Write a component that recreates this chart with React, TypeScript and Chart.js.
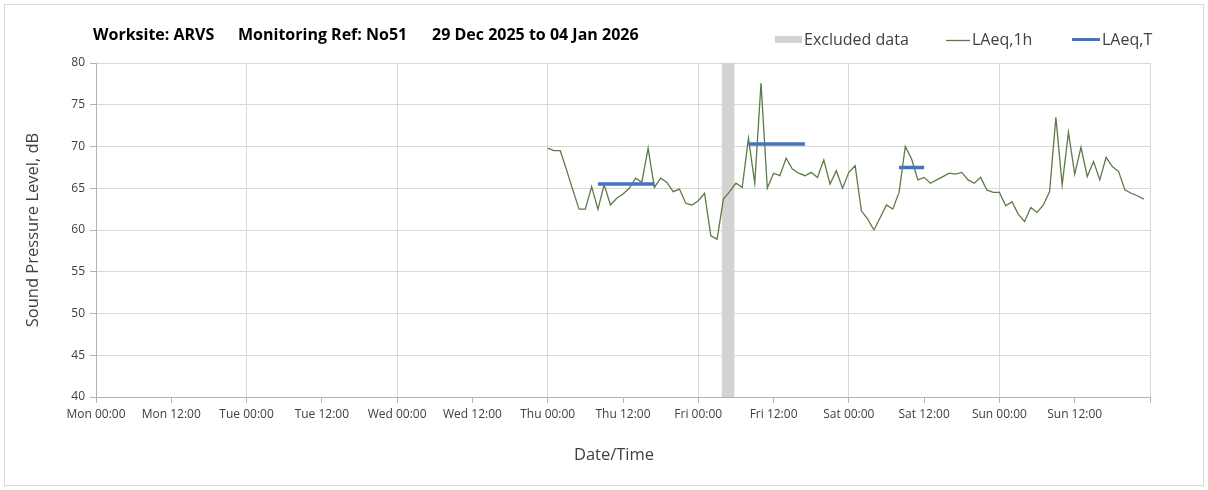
import React, { useEffect, useRef } from 'react';
import { Chart, registerables } from 'chart.js';

Chart.register(...registerables);

// ---- data ----
const X_TICK_LABELS = [
  'Mon 00:00', 'Mon 12:00', 'Tue 00:00', 'Tue 12:00', 'Wed 00:00', 'Wed 12:00',
  'Thu 00:00', 'Thu 12:00', 'Fri 00:00', 'Fri 12:00', 'Sat 00:00', 'Sat 12:00',
  'Sun 00:00', 'Sun 12:00', '',
];
const Y_TICKS = [40, 45, 50, 55, 60, 65, 70, 75, 80];

// hourly LAeq,1h values starting Thu 00:00 (hour 72 of the week)
const LAEQ_1H_START_HOUR = 72;
const LAEQ_1H = [
  69.8, 69.5, 69.5, 67.2, 64.8, 62.5, 62.5, 65.2, 62.5, 65.4, 63.0, 63.8,
  64.3, 65.0, 66.2, 65.7, 69.8, 65.1, 66.2, 65.7, 64.6, 64.9, 63.2, 63.0,
  63.5, 64.4, 59.3, 58.9, 63.7, 64.6, 65.6, 65.1, 71.0, 65.6, 77.6, 65.0,
  66.8, 66.5, 68.6, 67.3, 66.8, 66.5, 66.9, 66.3, 68.4, 65.5, 67.1, 65.0,
  66.9, 67.7, 62.3, 61.3, 60.0, 61.5, 63.0, 62.5, 64.5, 70.0, 68.5, 66.0,
  66.3, 65.6, 66.0, 66.4, 66.8, 66.7, 66.9, 66.0, 65.6, 66.3, 64.8, 64.5,
  64.5, 62.9, 63.4, 61.9, 61.0, 62.7, 62.1, 63.0, 64.6, 73.5, 65.4, 71.7,
  66.7, 69.9, 66.4, 68.2, 66.0, 68.7, 67.6, 67.0, 64.8, 64.4, 64.1, 63.7,
];

// LAeq,T periods (hours of the week)
const LAEQ_T_FROM = [80, 104, 128];
const LAEQ_T_TO = [89, 113, 132];
const LAEQ_T = [65.5, 70.3, 67.5];

// excluded data periods (hours of the week)
const EXCLUDED_FROM = [99.75];
const EXCLUDED_TO = [101.75];

const TITLE_PARTS = ['Worksite: ARVS', 'Monitoring Ref: No51', '29 Dec 2025 to 04 Jan 2026'];
const LEGEND_LABELS = ['Excluded data', 'LAeq,1h', 'LAeq,T'];
const X_TITLE = 'Date/Time';
const Y_TITLE = 'Sound Pressure Level, dB';

// ---- styles ----
const FONT = "'Open Sans', sans-serif";
const GREEN = '#5b7b45';
const BLUE = '#4472c4';
const BAND = '#d3d3d3';
const GRID = '#d9d9d9';
const AXIS = '#b3b3b3';
const TEXT = '#404040';

const overlayPlugin = {
  id: 'overlay',
  beforeDatasetsDraw(chart: any) {
    const { ctx, chartArea, scales } = chart;
    ctx.save();
    ctx.fillStyle = BAND;
    EXCLUDED_FROM.forEach((from, i) => {
      const x1 = scales.x.getPixelForValue(from);
      const x2 = scales.x.getPixelForValue(EXCLUDED_TO[i]);
      ctx.fillRect(x1, chartArea.top, x2 - x1, chartArea.bottom - chartArea.top);
    });
    ctx.restore();
  },
  afterDraw(chart: any) {
    const { ctx } = chart;
    ctx.save();
    // frame
    ctx.strokeStyle = '#d9d9d9';
    ctx.lineWidth = 1;
    ctx.strokeRect(4.5, 4.5, 1199, 481);
    // title
    ctx.fillStyle = '#000000';
    ctx.font = `bold 16px ${FONT}`;
    ctx.textBaseline = 'middle';
    ctx.textAlign = 'left';
    const titleX = [93, 238, 432];
    TITLE_PARTS.forEach((t, i) => ctx.fillText(t, titleX[i], 35));
    // legend
    ctx.font = `16px ${FONT}`;
    ctx.fillStyle = BAND;
    ctx.fillRect(775, 36, 27, 7);
    ctx.fillStyle = TEXT;
    ctx.fillText(LEGEND_LABELS[0], 804, 40);
    ctx.strokeStyle = GREEN;
    ctx.lineWidth = 1.3;
    ctx.beginPath();
    ctx.moveTo(946, 40.5);
    ctx.lineTo(970, 40.5);
    ctx.stroke();
    ctx.fillText(LEGEND_LABELS[1], 972, 40);
    ctx.strokeStyle = BLUE;
    ctx.lineWidth = 3;
    ctx.beginPath();
    ctx.moveTo(1072, 39.5);
    ctx.lineTo(1100, 39.5);
    ctx.stroke();
    ctx.fillText(LEGEND_LABELS[2], 1102, 40);
    // x axis title
    ctx.font = `16.5px ${FONT}`;
    ctx.textAlign = 'center';
    ctx.fillText(X_TITLE, 614, 455);
    ctx.restore();
  },
};

export default function App() {
  const ref = useRef<HTMLCanvasElement | null>(null);

  useEffect(() => {
    if (!ref.current) return;
    const lineData = LAEQ_1H.map((v, i) => ({ x: LAEQ_1H_START_HOUR + i, y: v }));
    const tData: any[] = [];
    LAEQ_T.forEach((v, i) => {
      tData.push({ x: LAEQ_T_FROM[i], y: v });
      tData.push({ x: LAEQ_T_TO[i], y: v });
      tData.push({ x: LAEQ_T_TO[i] + 0.5, y: null });
    });

    const chart = new Chart(ref.current, {
      type: 'line',
      data: {
        datasets: [
          {
            label: LEGEND_LABELS[2],
            data: tData,
            borderColor: BLUE,
            borderWidth: 3.5,
            pointRadius: 0,
            spanGaps: false,
            borderCapStyle: 'butt',
          },
          {
            label: LEGEND_LABELS[1],
            data: lineData,
            borderColor: GREEN,
            borderWidth: 1.3,
            pointRadius: 0,
            tension: 0,
          },
        ],
      },
      options: {
        responsive: false,
        animation: false,
        events: [],
        layout: { padding: { top: 63, right: 58, bottom: 10, left: 6 } },
        plugins: { legend: { display: false }, title: { display: false }, tooltip: { enabled: false } },
        scales: {
          x: {
            type: 'linear',
            min: 0,
            max: 168,
            afterBuildTicks: (s: any) => {
              s.ticks = X_TICK_LABELS.map((_, i) => ({ value: i * 12 }));
            },
            afterFit: (s: any) => {
              s.height = 83;
            },
            ticks: {
              autoSkip: false,
              maxRotation: 0,
              padding: 4,
              color: TEXT,
              font: { family: FONT, size: 12 },
              callback: (v: any) => X_TICK_LABELS[Math.round(Number(v) / 12)] ?? '',
            },
            grid: {
              color: (c: any) => (c.tick && c.tick.value % 24 === 0 ? GRID : 'rgba(0,0,0,0)'),
              tickColor: AXIS,
              tickLength: 6,
            },
            border: { color: AXIS },
            title: { display: false },
          },
          y: {
            min: 40,
            max: 80,
            afterBuildTicks: (s: any) => {
              s.ticks = Y_TICKS.map((v) => ({ value: v }));
            },
            afterFit: (s: any) => {
              s.width = 90;
            },
            ticks: {
              padding: 5,
              color: TEXT,
              font: { family: FONT, size: 12 },
            },
            grid: { color: GRID, tickColor: AXIS, tickLength: 6 },
            border: { color: AXIS },
            title: {
              display: true,
              text: Y_TITLE,
              color: TEXT,
              font: { family: FONT, size: 16.5 },
              padding: { top: 17, bottom: 0 },
            },
          },
        },
      },
      plugins: [overlayPlugin],
    } as any);

    return () => chart.destroy();
  }, []);

  return (
    <div style={{ position: 'absolute', left: 0, top: 0, width: 1208, height: 490, background: '#ffffff' }}>
      <canvas ref={ref} width={1208} height={490} />
    </div>
  );
}
